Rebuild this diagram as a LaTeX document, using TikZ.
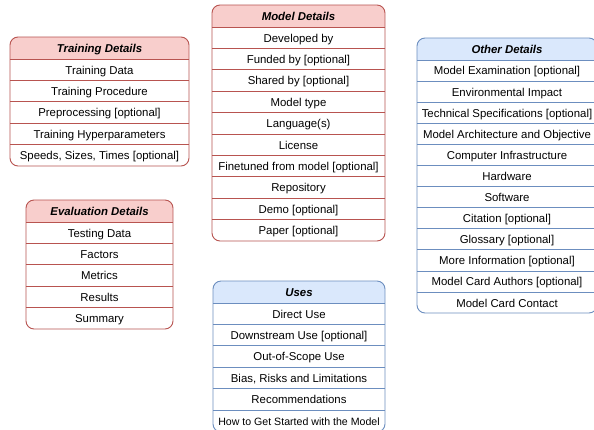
\documentclass[tikz,border=0pt]{standalone}
\usepackage{fontspec}
\setmainfont{Liberation Sans}
\definecolor{redfill}{HTML}{F8CECC}
\definecolor{redline}{HTML}{B85450}
\definecolor{bluefill}{HTML}{DAE8FC}
\definecolor{blueline}{HTML}{6C8EBF}
\tikzset{
  cardtext/.style={font=\fontsize{11.4}{13}\selectfont, text=black, inner sep=0pt, text height=11pt, text depth=2.3pt},
  cardtitle/.style={cardtext, font=\fontsize{11.4}{13}\selectfont\bfseries\itshape},
  cardline/.style={line width=0.9pt},
}
% #1 name, #2 left, #3 right, #4 top (px, downwards), #5 bottom, #6 row height, #7 colour prefix, #8 title, #9 rows
\newcommand{\mcard}[9]{%
  \pgfmathsetmacro\cmid{(#2+#3)/2}%
  \begin{scope}
    \clip[rounded corners=8pt] (#2,-#4) rectangle (#3,-#5);
    \fill[#7fill] (#2,-#4) rectangle (#3,-#4-22);
  \end{scope}
  \draw[cardline, #7line] (#2,-#4-22) -- (#3,-#4-22);
  \node[cardtitle] (#1-title) at (\cmid,-#4-11) {#8};
  \foreach \r [count=\i] in {#9} {
    \pgfmathsetmacro\cy{-#4-22-(\i-0.5)*#6}
    \node[cardtext] (#1-\i) at (\cmid,\cy) {\r};
  }
  \foreach \r [count=\i] in {#9} {
    \ifnum\i>1
      \pgfmathsetmacro\ly{-#4-22-(\i-1)*#6}
      \draw[cardline, #7line] (#2,\ly) -- (#3,\ly);
    \fi
  }
  \draw[cardline, #7line, rounded corners=8pt] (#2,-#4) rectangle (#3,-#5);
}
\begin{document}
\begin{tikzpicture}[x=1pt,y=1pt]
\useasboundingbox (0,-429) rectangle (594,0);
\clip (0,-429) rectangle (594,0);
\fill[white] (0,-429) rectangle (594,0);

\mcard{tr}{10}{189}{37}{166}{21.4}{red}{Training Details}{Training Data, Training Procedure, Preprocessing [optional], Training Hyperparameters, {Speeds, Sizes, Times [optional]}}

\mcard{md}{212}{385}{5}{241}{21.4}{red}{Model Details}{Developed by, Funded by [optional], Shared by [optional], Model type, Language(s), License, Finetuned from model [optional], Repository, Demo [optional], Paper [optional]}

\mcard{od}{417}{597}{38}{313}{21.1}{blue}{Other Details}{Model Examination [optional], Environmental Impact, Technical Specifications [optional], Model Architecture and Objective, Computer Infrastructure, Hardware, Software, Citation [optional], Glossary [optional], More Information [optional], Model Card Authors [optional], Model Card Contact}

\mcard{ev}{26}{173}{200}{329}{21.4}{red}{Evaluation Details}{Testing Data, Factors, Metrics, Results, Summary}

\mcard{us}{213}{385}{281}{432}{21.4}{blue}{Uses}{Direct Use, Downstream Use [optional], Out-of-Scope Use, {Bias, Risks and Limitations}, Recommendations, {\fontsize{10.6}{12}\selectfont How to Get Started with the Model}}
\end{tikzpicture}
\end{document}
